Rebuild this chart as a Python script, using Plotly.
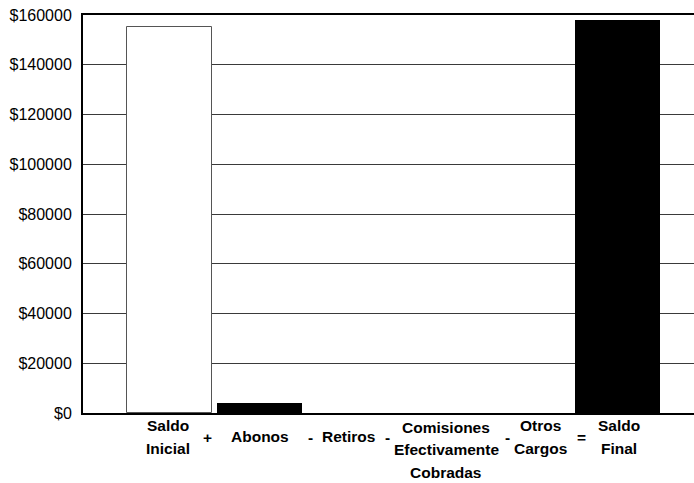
import plotly.graph_objects as go

# ---- data ----
categories = ["Saldo<br>Inicial", "Abonos", "Retiros",
              "Comisiones<br>Efectivamente<br>Cobradas", "Otros<br>Cargos", "Saldo<br>Final"]
values = [155300, 4000, 0, 0, 0, 158000]
label_offsets = [-0.02, 0.01, 0.0, 0.09, 0.14, 0.02]   # label shift from bar slot
operators = ["+", "-", "-", "-", "="]
operator_slots = [0.42, 1.57, 2.43, 3.77, 4.6]
y_ticks = [0, 20000, 40000, 60000, 80000, 100000, 120000, 140000, 160000]
y_ticktext = ["$" + str(v) for v in y_ticks]

bar_fill = ["white", "black", "black", "black", "black", "black"]
bar_line = ["#555555", "black", "black", "black", "black", "black"]
bar_line_w = [1, 0, 0, 0, 0, 0]

xs = list(range(len(categories)))

fig = go.Figure()
fig.add_trace(go.Bar(
    x=xs, y=values, width=0.95,
    marker=dict(color=bar_fill, line=dict(color=bar_line, width=bar_line_w)),
    hoverinfo="skip",
))

label_font = dict(family="Liberation Sans, Arial, sans-serif", size=15.5, color="black")
annotations = []
for i, (lab, off) in enumerate(zip(categories, label_offsets)):
    lines = lab.split("<br>")
    n = len(lines)
    if n == 1:
        first, step = -23, 0
    elif n == 2:
        first, step = -12.5, 22.5
    else:
        first, step = -14, 22.6
    for k, line in enumerate(lines):
        annotations.append(dict(x=i + off, y=0, xref="x", yref="paper", text="<b>%s</b>" % line,
                                showarrow=False, yanchor="middle", yshift=first - k * step,
                                font=label_font, align="center"))
for op, pos in zip(operators, operator_slots):
    annotations.append(dict(x=pos, y=0, xref="x", yref="paper", text="<b>%s</b>" % op,
                            showarrow=False, yanchor="middle", yshift=-24,
                            font=label_font))

fig.update_layout(
    width=694, height=483,
    margin=dict(l=83, r=0, t=15, b=70),
    paper_bgcolor="white", plot_bgcolor="white",
    showlegend=False,
    bargap=0,
    annotations=annotations,
    xaxis=dict(range=[-0.967, 5.856], showticklabels=False, showgrid=False, zeroline=False,
               showline=True, linecolor="black", linewidth=2, mirror=True, ticks="",
               automargin=False),
    yaxis=dict(range=[0, 160000], tickvals=y_ticks, ticktext=y_ticktext,
               showgrid=True, gridcolor="#3a3a3a", gridwidth=1, zeroline=False,
               showline=True, linecolor="black", linewidth=2, ticks="",
               ticklabelstandoff=6, automargin=False,
               tickfont=dict(family="Liberation Sans, Arial, sans-serif", size=16, color="black")),
)

fig.write_html("out.html", config={"displayModeBar": False},
               post_script="document.body.style.margin='0';document.body.style.overflow='hidden';")
